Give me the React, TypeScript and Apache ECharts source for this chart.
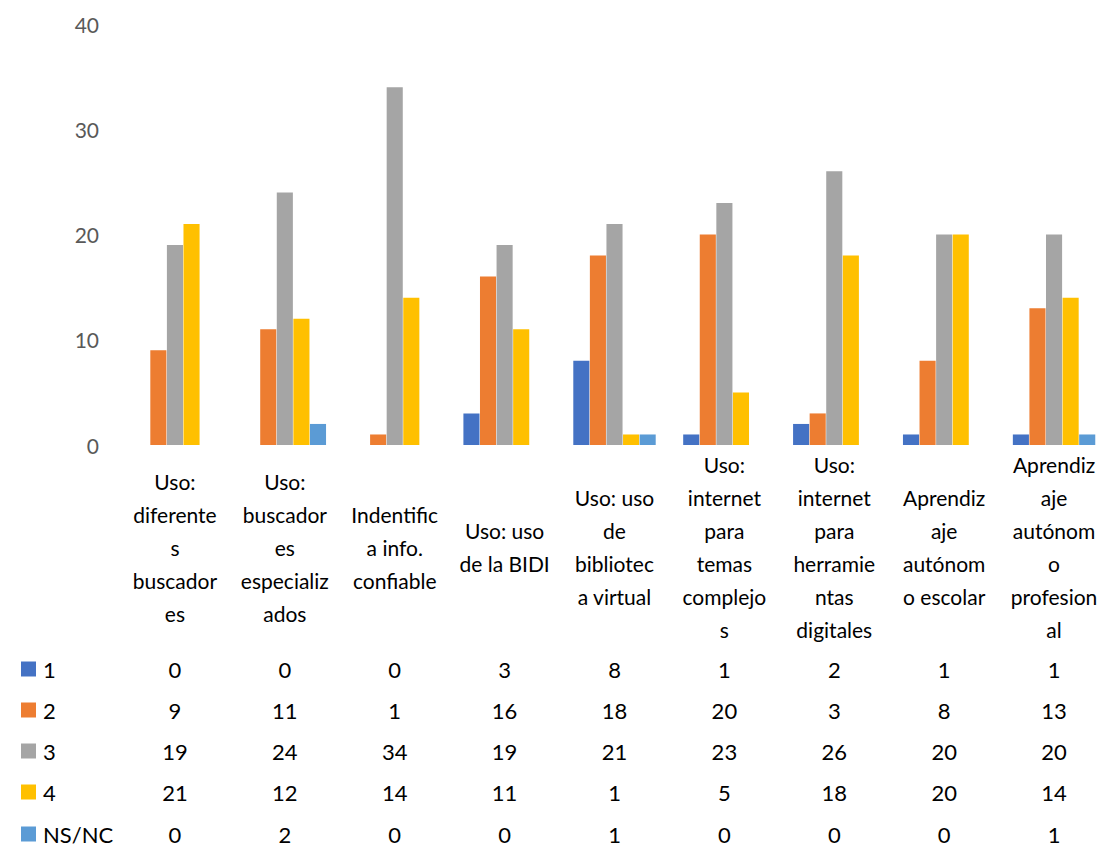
import React, { useEffect, useRef } from "react";
import * as echarts from "echarts";

const categories = [
  "Uso:\ndiferente\ns\nbuscador\nes",
  "Uso:\nbuscador\nes\nespecializ\nados",
  "Indentific\na info.\nconfiable",
  "Uso: uso\nde la BIDI",
  "Uso: uso\nde\nbibliotec\na virtual",
  "Uso:\ninternet\npara\ntemas\ncomplejo\ns",
  "Uso:\ninternet\npara\nherramie\nntas\ndigitales",
  "Aprendiz\naje\nautónom\no escolar",
  "Aprendiz\naje\nautónom\no\nprofesion\nal",
];

const seriesNames = ["1", "2", "3", "4", "NS/NC"];
const s1 = [0, 0, 0, 3, 8, 1, 2, 1, 1];
const s2 = [9, 11, 1, 16, 18, 20, 3, 8, 13];
const s3 = [19, 24, 34, 19, 21, 23, 26, 20, 20];
const s4 = [21, 12, 14, 11, 1, 5, 18, 20, 14];
const sNS = [0, 2, 0, 0, 1, 0, 0, 0, 1];
const seriesValues = [s1, s2, s3, s4, sNS];
const colors = ["#4472C4", "#ED7D31", "#A5A5A5", "#FFC000", "#5B9BD5"];

const FONT = "Lato";
const AXIS_Y = 445;
const ROW_Y = [669, 710, 751, 792, 834];

export default function App() {
  const ref = useRef<HTMLDivElement>(null);
  useEffect(() => {
    if (!ref.current) return;
    const chart = echarts.init(ref.current, undefined, { renderer: "svg" });
    const tableAxes = seriesValues.map((vals, i) => ({
      type: "category" as const,
      gridIndex: 0,
      position: "bottom" as const,
      data: vals.map(String),
      axisLine: { show: false },
      axisTick: { show: false },
      axisLabel: {
        interval: 0,
        fontFamily: FONT,
        fontSize: 22,
        color: "#000",
        verticalAlign: "middle" as const,
        margin: ROW_Y[i] - AXIS_Y,
      },
    }));
    chart.setOption({
      animation: false,
      grid: { left: 120, width: 990, top: 24, bottom: 848 - AXIS_Y },
      legend: seriesNames.map((n, i) => ({
        data: [n],
        left: 16,
        top: ROW_Y[i] - 16,
        itemWidth: 15,
        itemHeight: 15,
        itemGap: 0,
        icon: "rect",
        textStyle: { fontFamily: FONT, fontSize: 22, color: "#000", padding: [0, 0, 0, 2] },
        selectedMode: false,
      })),
      xAxis: [
        {
          type: "category",
          data: categories,
          axisLine: { show: false },
          axisTick: { show: false },
          axisLabel: {
            interval: 0,
            fontFamily: FONT,
            fontSize: 21,
            color: "#000",
            lineHeight: 33,
            verticalAlign: "middle",
            align: "center",
            margin: 547 - AXIS_Y,
          },
        },
        ...tableAxes,
      ],
      yAxis: {
        type: "value",
        min: 0,
        max: 40,
        interval: 10,
        axisLine: { show: false },
        axisTick: { show: false },
        splitLine: { show: false },
        axisLabel: { fontFamily: FONT, fontSize: 21, color: "#595959", margin: 21 },
      },
      series: seriesNames.map((n, i) => ({
        name: n,
        type: "bar",
        xAxisIndex: 0,
        data: seriesValues[i],
        barGap: "3%",
        barCategoryGap: "25%",
        itemStyle: { color: colors[i] },
      })),
    });
    return () => chart.dispose();
  }, []);
  return (
    <div
      ref={ref}
      style={{ position: "absolute", left: 0, top: 0, width: 1109, height: 848, background: "#fff" }}
    />
  );
}
